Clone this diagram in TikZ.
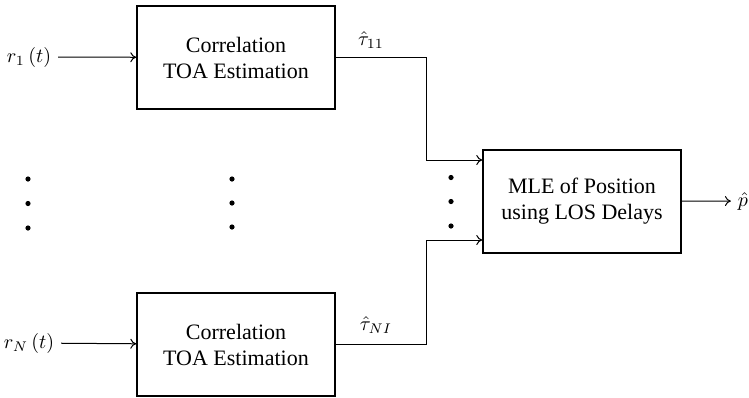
\documentclass[tikz,border=0pt]{standalone}
\usepackage{fontspec}
\setmainfont{Liberation Serif}
\usetikzlibrary{arrows.meta}
\tikzset{
bloc/.style={draw,line width=0.7pt,minimum width=99pt,minimum height=51.5pt,align=center,font=\fontsize{11}{13}\selectfont},
fleche/.style={line width=0.5pt,-{To[length=3pt,width=5pt]}},
}

\begin{document}
\begin{tikzpicture}[x=0.5pt,y=-0.5pt]
\useasboundingbox (0,0) rectangle (749,397);
\node[bloc] (c1) at (236,57.5) {Correlation\\TOA Estimation};
\node[bloc] (cN) at (236,344.5) {Correlation\\TOA Estimation};
\node[bloc] (mle) at (582,201.5) {MLE of Position\\using LOS Delays};
\node (r1) at (29,57) {$r_1\,(t)$};
\node (rN) at (29,343) {$r_N\,(t)$};
\node (pout) at (743,201) {$\hat{p}$};
\node (t1) at (371,40) {$\hat{\tau}_{11}$};
\node (tN) at (376,325) {$\hat{\tau}_{NI}$};
\coordinate (j1) at (426,160);
\coordinate (jN) at (426,240);
\draw[fleche] (r1) -- (c1);
\draw[fleche] (rN) -- (cN);
\draw[fleche] (c1.east) -| (j1) -- (j1 -| mle.west);
\draw[fleche] (cN.east) -| (jN) -- (jN -| mle.west);
\draw[fleche] (mle) -- (pout);
\foreach \x/\y in
{
28/179, 28/203.5, 28/228,
232/179, 232/203, 232/227,
451/177.5, 451/201.5, 451/226
}
{
\fill (\x,\y) circle (1.3pt);
}
\end{tikzpicture}
\end{document}
